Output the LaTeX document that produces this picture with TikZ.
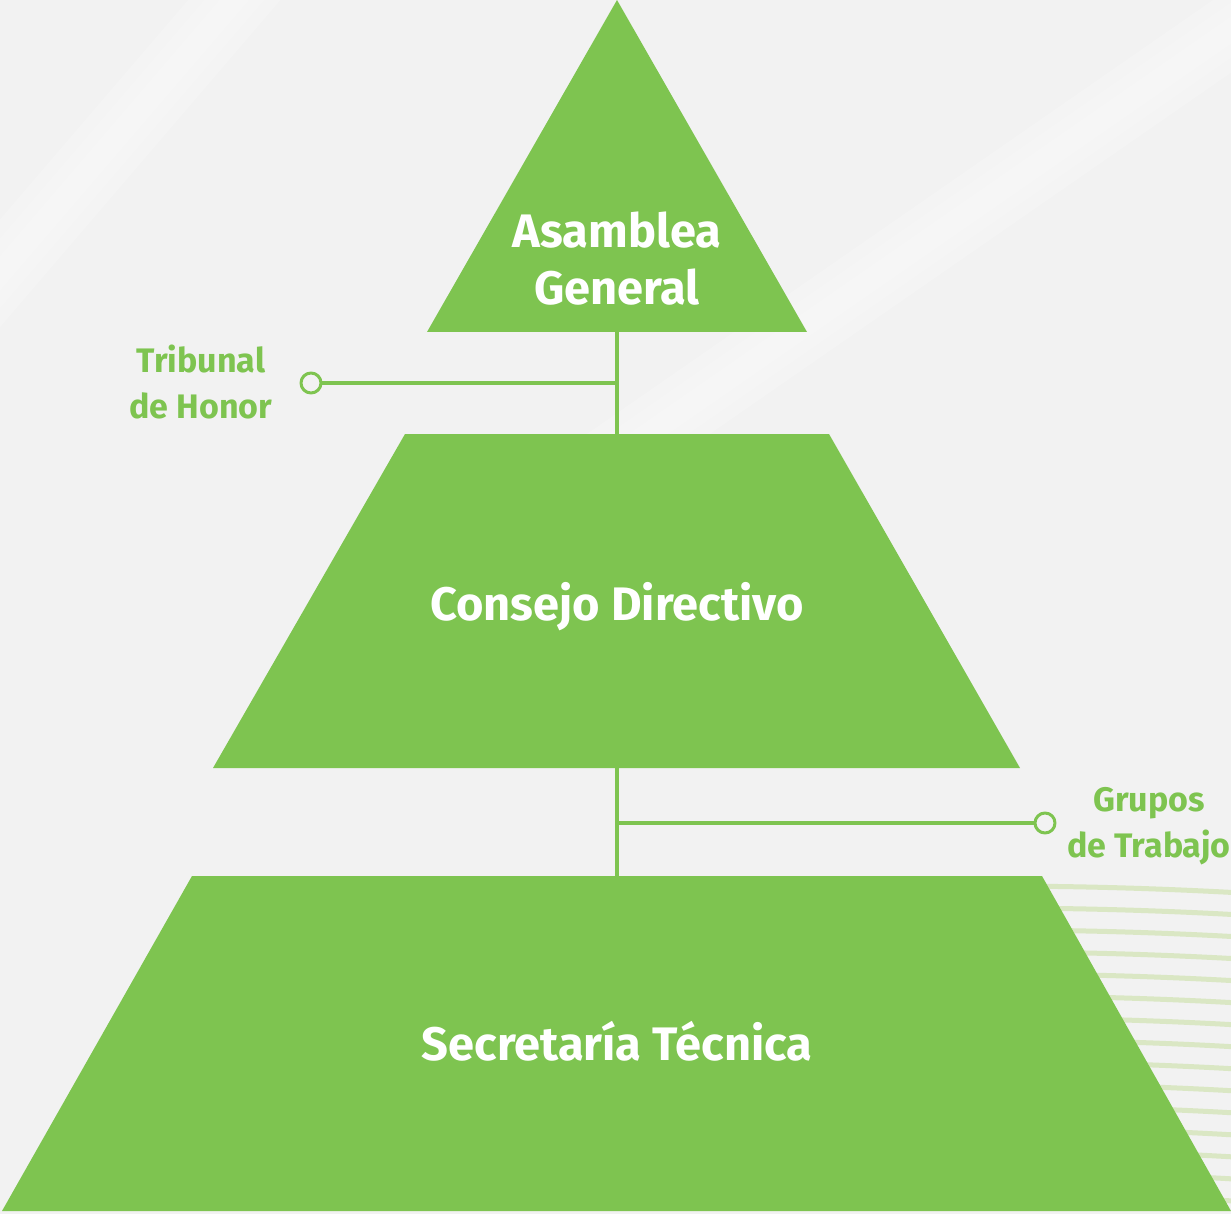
\documentclass[tikz,border=0pt]{standalone}
\usepackage{fontspec}
\setmainfont{Fira Sans}
\definecolor{leaf}{RGB}{126,196,80}
\definecolor{paper}{RGB}{242,242,242}
\definecolor{ring}{RGB}{218,231,196}
\begin{document}
\begin{tikzpicture}[x=1pt,y=-1pt,line join=round,line cap=round,
    piece/.style={fill=leaf},
    link/.style={draw=leaf,line width=3.5pt},
    dot/.style={circle,draw=leaf,fill=paper,line width=3pt,minimum size=20pt,inner sep=0pt},
    title/.style={text=white,font=\bfseries\fontsize{47}{57}\selectfont,align=center,inner sep=0pt},
    side/.style={text=leaf,font=\bfseries\fontsize{34}{46}\selectfont,align=center,inner sep=0pt}]
    \useasboundingbox (0,0) rectangle (1231,1214);
    \fill[paper] (0,0) rectangle (1231,1214);
    % soft streaks
    \foreach \w in {70,45,22}{
        \draw[white,opacity=0.18,line width=\w pt] (-40,320) -- (260,-30);
        \draw[white,opacity=0.18,line width=\w pt] (380,620) -- (1260,10);
    }
    % rings
    \begin{scope}
        \clip (0,0) rectangle (1231,1214);
        \foreach \k in {0,...,14}
            \draw[ring,line width=5pt] (1000,5186) ++(-91:{4300-22*\k}) arc[start angle=-91,end angle=-86.5,radius={4300-22*\k}];
    \end{scope}
    % pyramid
    \coordinate (ag-top) at (617,0);
    \coordinate (ag-base) at (617,332);
    \coordinate (cd-top) at (617,434);
    \coordinate (cd-base) at (617,768);
    \coordinate (st-top) at (617,876);
    \fill[piece] (ag-top) -- (807,332) -- (427,332) -- cycle;
    \fill[piece] (405,434) -- (829,434) -- (1020,768) -- (213,768) -- cycle;
    \fill[piece] (192,876) -- (1042,876) -- (1231,1211) -- (2,1211) -- cycle;
    \draw[link] (ag-base) -- (cd-top);
    \draw[link] (cd-base) -- (st-top);
    \node[dot] (tribunal-dot) at (311,383) {};
    \node[dot] (grupos-dot) at (1045,823) {};
    \draw[link] (tribunal-dot) -- (tribunal-dot -| ag-base);
    \draw[link] (grupos-dot) -- (grupos-dot -| cd-base);
    \node[title] (asamblea) at (617,259) {Asamblea\\General};
    \node[title,anchor=base] (consejo) at (617,620) {Consejo Directivo};
    \node[title,anchor=base] (secretaria) at (617,1060) {Secretaría Técnica};
    \node[side] (tribunal) at (201,382) {Tribunal\\de Honor};
    \node[side] (grupos) at (1149,826) {Grupos\\de Trabajo};
\end{tikzpicture}
\end{document}
